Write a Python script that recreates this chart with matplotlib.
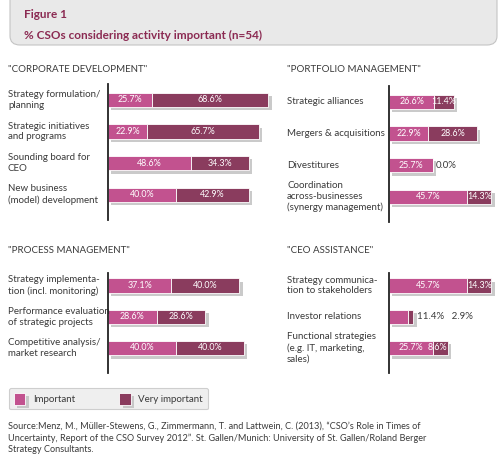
import matplotlib.pyplot as plt
import matplotlib.patheffects as pe
from matplotlib.patches import FancyBboxPatch
from matplotlib.transforms import blended_transform_factory

plt.rcParams['font.family'] = ['Lato', 'DejaVu Sans']

# data
corp_labels = ['Strategy formulation/\nplanning', 'Strategic initiatives\nand programs',
               'Sounding board for\nCEO', 'New business\n(model) development']
corp_imp = [25.7, 22.9, 48.6, 40.0]
corp_very = [68.6, 65.7, 34.3, 42.9]

port_labels = ['Strategic alliances', 'Mergers & acquisitions', 'Divestitures',
               'Coordination\nacross-businesses\n(synergy management)']
port_imp = [26.6, 22.9, 25.7, 45.7]
port_very = [11.4, 28.6, 0.0, 14.3]

proc_labels = ['Strategy implementa-\ntion (incl. monitoring)', 'Performance evaluation\nof strategic projects',
               'Competitive analysis/\nmarket research']
proc_imp = [37.1, 28.6, 40.0]
proc_very = [40.0, 28.6, 40.0]

ceo_labels = ['Strategy communica-\ntion to stakeholders', 'Investor relations',
              'Functional strategies\n(e.g. IT, marketing,\nsales)']
ceo_imp = [45.7, 11.4, 25.7]
ceo_very = [14.3, 2.9, 8.6]

PINK = '#C2528F'
DARK = '#8A3C5E'
TXT = '#3a3a3a'
TITLE = '#8B2A52'

W, H = 500, 454
fig = plt.figure(figsize=(W / 100, H / 100), dpi=100)

shadow = [pe.SimplePatchShadow(offset=(2.5, -2.5), shadow_rgbFace='#bdbdbd', alpha=0.8), pe.Normal()]


def px_axes(x0, y_top, w, h):
    return fig.add_axes([x0 / W, 1 - (y_top + h) / H, w / W, h / H])


def panel(ax, labels, imp, very, xmax, label_x, ylim):
    pos = range(len(labels))
    b1 = ax.barh(pos, imp, height=0.45, color=PINK, edgecolor='white', linewidth=0.6,
                 label='Important', path_effects=shadow, zorder=2)
    b2 = ax.barh(pos, very, left=imp, height=0.45, color=DARK, edgecolor='white', linewidth=0.6,
                 label='Very important', path_effects=shadow, zorder=2)
    ax.set_xlim(0, xmax)
    ax.set_ylim(*ylim)
    for s in ['top', 'right', 'bottom']:
        ax.spines[s].set_visible(False)
    ax.spines['left'].set_color('#222222')
    ax.spines['left'].set_linewidth(1.3)
    ax.spines['left'].set_zorder(3)
    ax.set_xticks([])
    ax.set_yticks([])
    tr = blended_transform_factory(fig.transFigure, ax.transData)
    vfs = 6.4
    for i, lab in enumerate(labels):
        ax.text(label_x / W, i, lab, transform=tr, ha='left', va='center',
                fontsize=7, color=TXT, linespacing=1.25)
        a, b = imp[i], very[i]
        if a + b < 16:
            ax.text(a + b + 2, i, f'{a:.1f}%   {b:.1f}%', ha='left', va='center',
                    fontsize=7, color=TXT)
            continue
        ax.text(a / 2, i, f'{a:.1f}%', ha='center', va='center', fontsize=vfs, color='white', zorder=4)
        if b == 0:
            ax.text(a + 1.5, i, f'{b:.1f}%', ha='left', va='center', fontsize=7, color=TXT)
        elif b < 10:
            ax.text(a + b - 0.3, i, f'{b:.1f}%', ha='right', va='center', fontsize=vfs, color='white', zorder=4)
        else:
            ax.text(a + b / 2, i, f'{b:.1f}%', ha='center', va='center', fontsize=vfs, color='white', zorder=4)
    return b1, b2


# panels (pixel geometry)
ax1 = px_axes(108, 84, 170, 136)
h1, h2 = panel(ax1, corp_labels, corp_imp, corp_very, 100, 8, (3.8, -0.5))
ax2 = px_axes(389, 86, 111, 136)
panel(ax2, port_labels, port_imp, port_very, 65, 287, (3.8, -0.5))
ax3 = px_axes(108, 273, 170, 100)
panel(ax3, proc_labels, proc_imp, proc_very, 100, 8, (2.8, -0.4))
ax4 = px_axes(389, 273, 111, 100)
panel(ax4, ceo_labels, ceo_imp, ceo_very, 65, 287, (2.8, -0.4))

# title box
fig.patches.append(FancyBboxPatch((10 / W, 1 - 45 / H), 487 / W, 60 / H,
                                  boxstyle='round,pad=0,rounding_size=0.02',
                                  transform=fig.transFigure, facecolor='#e9e9e9',
                                  edgecolor='#c4c4c4', linewidth=0.8, zorder=0))
fig.text(24 / W, 1 - 15 / H, 'Figure 1', fontsize=8.5, fontweight='bold', color=TITLE, va='center')
fig.text(24 / W, 1 - 35 / H, '% CSOs considering activity important (n=54)', fontsize=8.5,
         fontweight='bold', color=TITLE, va='center')

# section headings
fig.text(8 / W, 1 - 70 / H, '"CORPORATE DEVELOPMENT"', fontsize=7, color=TXT, va='center')
fig.text(287 / W, 1 - 70 / H, '"PORTFOLIO MANAGEMENT"', fontsize=7, color=TXT, va='center')
fig.text(8 / W, 1 - 251 / H, '"PROCESS MANAGEMENT"', fontsize=7, color=TXT, va='center')
fig.text(287 / W, 1 - 251 / H, '"CEO ASSISTANCE"', fontsize=7, color=TXT, va='center')

# legend
leg = fig.legend(handles=[h1, h2], loc='upper left', bbox_to_anchor=(4 / W, 1 - 383 / H),
                 ncol=2, fontsize=7, frameon=True, fancybox=True, facecolor='#ececec',
                 edgecolor='#c4c4c4', handlelength=1.2, handleheight=1.5, columnspacing=4.5,
                 borderpad=0.5, labelcolor=TXT)
leg.get_frame().set_linewidth(0.8)

# source
fig.text(8 / W, 1 - 422 / H,
         'Source:Menz, M., Müller-Stewens, G., Zimmermann, T. and Lattwein, C. (2013), “CSO’s Role in Times of\n'
         'Uncertainty, Report of the CSO Survey 2012”. St. Gallen/Munich: University of St. Gallen/Roland Berger\n'
         'Strategy Consultants.', fontsize=6.6, color=TXT, va='top', linespacing=1.3)

fig.savefig('out.png', dpi=100)
